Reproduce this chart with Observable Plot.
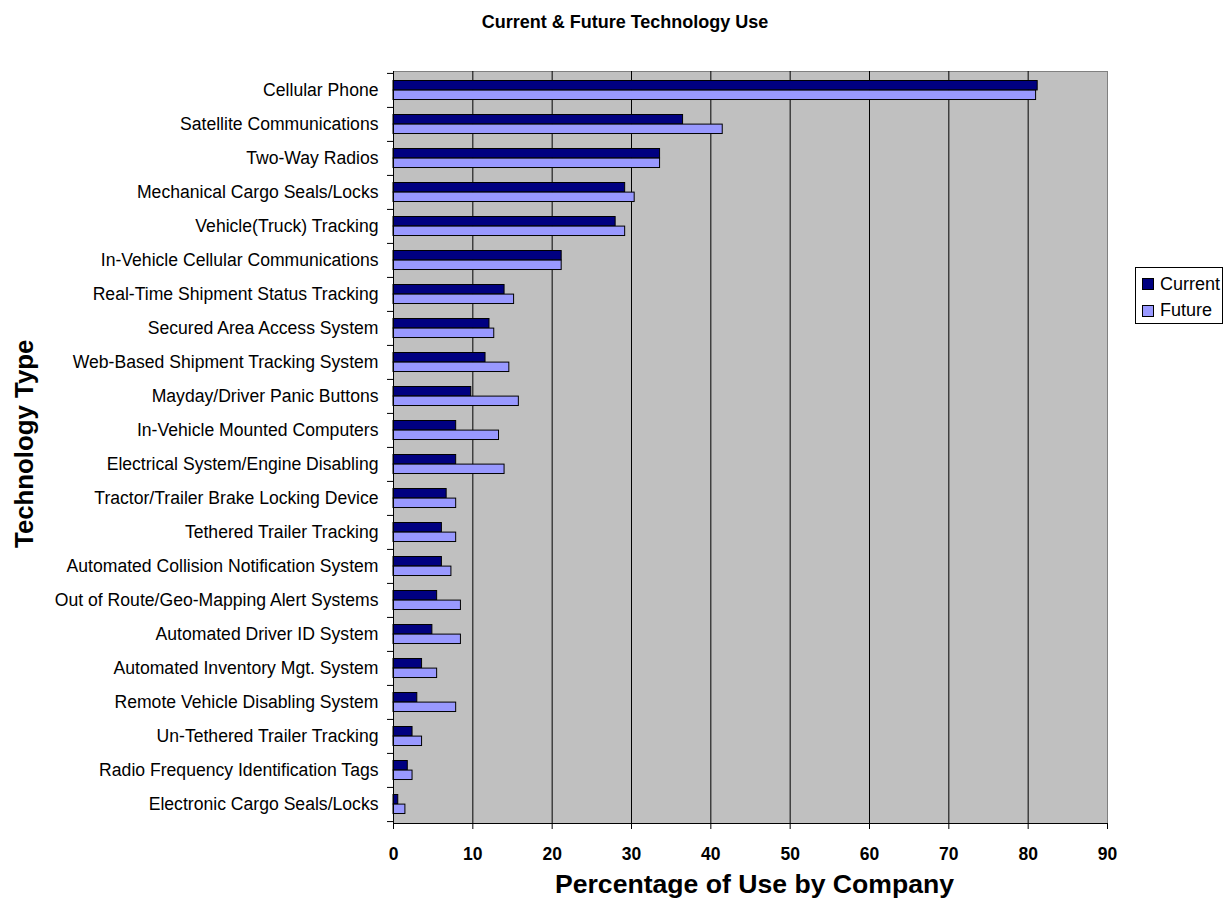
<!DOCTYPE html>
<html>
<head>
<meta charset="utf-8">
<script src="https://cdn.jsdelivr.net/npm/d3@7"></script>
<script src="https://cdn.jsdelivr.net/npm/@observablehq/plot@0.6"></script>
<style>
  html, body { margin: 0; padding: 0; background: #ffffff; }
  #wrap { position: relative; width: 1230px; height: 909px; font-family: Arial, "Liberation Sans", sans-serif; }
  #title { position: absolute; left: 20px; width: 1210px; top: 11px; text-align: center; font-size: 18px; font-weight: bold; color: #000; line-height: 22px; }
  #legend { position: absolute; left: 1135px; top: 267px; width: 86px; height: 55px; border: 1px solid #000; background: #fff; }
  .lg-row { position: absolute; left: 6px; height: 20px; display: flex; align-items: center; font-size: 18px; color: #000; }
  .lg-sw { width: 10px; height: 10px; border: 1px solid #000; margin-right: 6px; }
</style>
</head>
<body>
<div id="wrap">
  <div id="chart"></div>
  <div id="title"></div>
  <div id="legend"></div>
</div>
<script>
// ---- data ----
const chartTitle = "Current & Future Technology Use";
const xTitle = "Percentage of Use by Company";
const yTitle = "Technology Type";
const seriesNames = ["Current", "Future"];
const seriesColors = ["#000080", "#9999FF"];

const categories = [
  "Cellular Phone",
  "Satellite Communications",
  "Two-Way Radios",
  "Mechanical Cargo Seals/Locks",
  "Vehicle(Truck) Tracking",
  "In-Vehicle Cellular Communications",
  "Real-Time Shipment Status Tracking",
  "Secured Area Access System",
  "Web-Based Shipment Tracking System",
  "Mayday/Driver Panic Buttons",
  "In-Vehicle Mounted Computers",
  "Electrical System/Engine Disabling",
  "Tractor/Trailer Brake Locking Device",
  "Tethered Trailer Tracking",
  "Automated Collision Notification System",
  "Out of Route/Geo-Mapping Alert Systems",
  "Automated Driver ID System",
  "Automated Inventory Mgt. System",
  "Remote Vehicle Disabling System",
  "Un-Tethered Trailer Tracking",
  "Radio Frequency Identification Tags",
  "Electronic Cargo Seals/Locks"
];
const currentValues = [81.2, 36.5, 33.6, 29.2, 28.0, 21.2, 14.0, 12.1, 11.6, 9.8, 7.9, 7.9, 6.7, 6.1, 6.1, 5.5, 4.9, 3.6, 3.0, 2.4, 1.8, 0.6];
const futureValues  = [81.0, 41.5, 33.6, 30.4, 29.2, 21.2, 15.2, 12.7, 14.6, 15.8, 13.3, 14.0, 7.9, 7.9, 7.3, 8.5, 8.5, 5.5, 7.9, 3.6, 2.4, 1.5];
const xTicks = [0, 10, 20, 30, 40, 50, 60, 70, 80, 90];
const gridTicks = [10, 20, 30, 40, 50, 60, 70, 80];

// ---- build ----
const rows = categories.map((c, i) => ({category: c, current: currentValues[i], future: futureValues[i]}));

const W = 1230, H = 909;
const mL = 393, mR = 123, mT = 71, mB = 86;
const band = (H - mT - mB) / categories.length;
const halfBand = band / 2;

const chart = Plot.plot({
  width: W,
  height: H,
  marginLeft: mL,
  marginRight: mR,
  marginTop: mT,
  marginBottom: mB,
  style: {fontFamily: "Arial, 'Liberation Sans', sans-serif", color: "#000", background: "transparent", overflow: "visible"},
  x: {domain: [0, 90]},
  y: {type: "band", domain: categories, padding: 0},
  marks: [
    Plot.frame({fill: "#c0c0c0", stroke: "#808080"}),
    Plot.gridX({ticks: gridTicks, stroke: "#000", strokeOpacity: 1, strokeWidth: 1}),
    Plot.barX(rows, {y: "category", x: "current", fill: seriesColors[0], stroke: "#000", strokeWidth: 1, insetTop: 7.5, insetBottom: band - 7.5 - 9.6}),
    Plot.barX(rows, {y: "category", x: "future", fill: seriesColors[1], stroke: "#000", strokeWidth: 1, insetTop: 7.5 + 9.6, insetBottom: band - 7.5 - 2 * 9.6}),
    Plot.ruleX([0], {stroke: "#000", strokeWidth: 1}),
    Plot.frame({anchor: "bottom", stroke: "#000", strokeWidth: 1}),
    Plot.axisX({ticks: xTicks, tickSize: 6, tickPadding: 18, fontSize: 17.5, fontWeight: "bold", label: null}),
    Plot.axisY({tickSize: 0, tickPadding: 15, fontSize: 17.6, label: null}),
    Plot.axisY({tickSize: 6, fill: "none", dy: -halfBand, label: null}),
    Plot.axisY({ticks: [categories[categories.length - 1]], tickSize: 6, fill: "none", dy: halfBand, label: null}),
    Plot.text([xTitle], {text: d => d, frameAnchor: "bottom", textAnchor: "middle", dx: 4, dy: 69.5, fontSize: 26.6, fontWeight: "bold"}),
    Plot.text([yTitle], {text: d => d, frameAnchor: "left", textAnchor: "middle", rotate: -90, dx: -369, dy: -3.7, fontSize: 25.8, fontWeight: "bold"})
  ]
});
document.getElementById("chart").appendChild(chart);

document.getElementById("title").textContent = chartTitle;

const legend = document.getElementById("legend");
seriesNames.forEach((name, i) => {
  const row = document.createElement("div");
  row.className = "lg-row";
  row.style.top = (6 + i * 26.5) + "px";
  const sw = document.createElement("div");
  sw.className = "lg-sw";
  sw.style.background = seriesColors[i];
  const lbl = document.createElement("span");
  lbl.textContent = name;
  row.appendChild(sw);
  row.appendChild(lbl);
  legend.appendChild(row);
});
</script>
</body>
</html>
